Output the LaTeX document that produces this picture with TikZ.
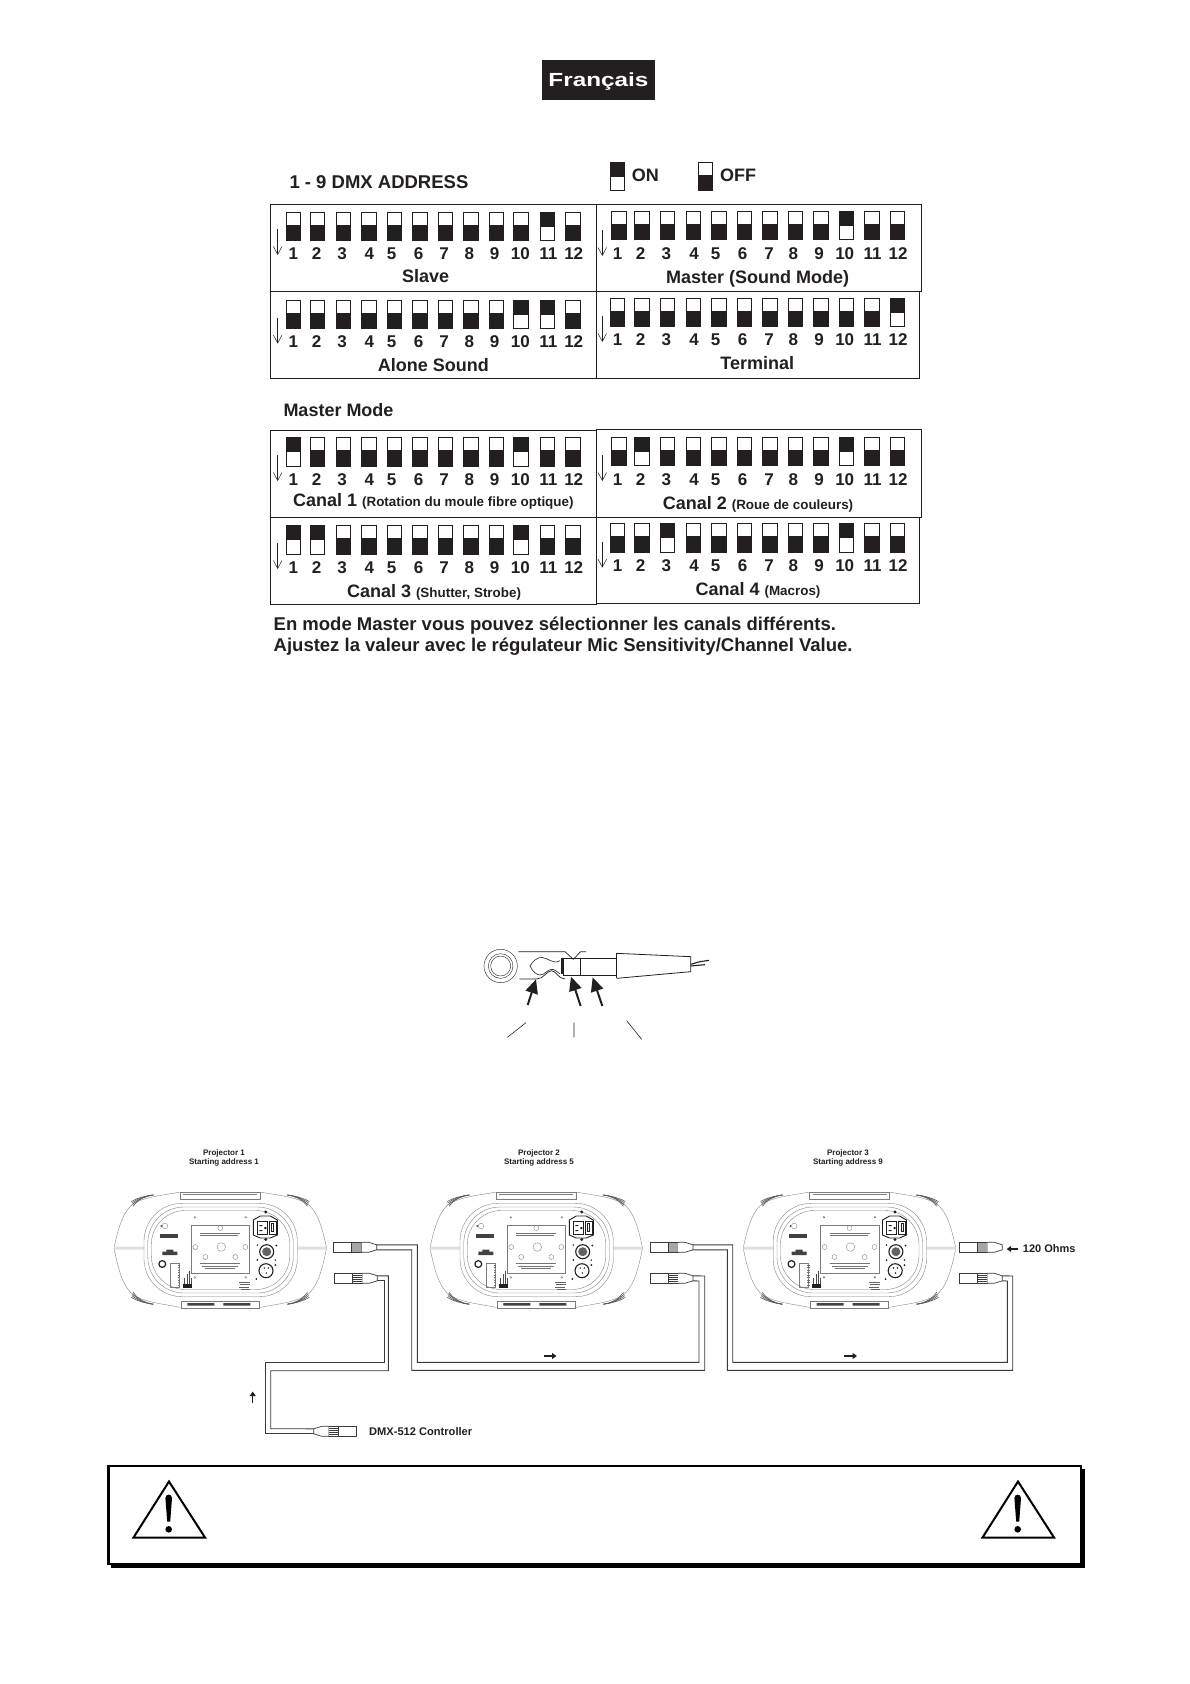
\documentclass[tikz,border=0pt]{standalone}
\usepackage{fontspec}
\setmainfont{Liberation Sans}
\usepackage{graphicx}
\usetikzlibrary{
  arrows.meta
}
\definecolor{ink}{HTML}{231F20}
\definecolor{wire}{HTML}{3A3A3A}
\definecolor{shell}{HTML}{7C7C7C}
\newcommand{\fs}[1]{\bfseries\fontsize{#1}{#1}\selectfont}
% switch x / number x
\newcommand{\colsL}{293.3/293.3,317.3/316.7,343.3/342,369/369.3,394.3/391.7,420/418.7,445.3/444,471/469.3,496.3/494.7,521/520.3,547.3/548.3,573/573.7}
\newcommand{\colsR}{619/617.7,642/640.7,667.3/666.3,693.3/694,719/715.7,744.3/742.7,770/769,795.3/793.3,820.7/819,846.3/844.7,872/872.7,897.3/898}
\newcommand{\colsS}{617.3/617.7,642/640.7,667.3/666.3,693.3/694,719/715.7,744.3/742.7,770/769,795.3/793.3,820.7/819,846.3/844.7,872/872.7,897.3/898}
% name, columns, switch y, number y, arrow x, arrow y, states
\newcommand{\diprow}[7]{%
  \foreach \sx/\nx [count=\i] in #2 {
    \pgfmathtruncatemacro{\st}{{#7}[\i-1]}
    \node[sw\st] (sw#1-\i) at (\sx,#3) {};
    \node[numlbl] (num#1-\i) at (\nx,#4) {\i};
  }
  \coordinate (arr#1a) at (#5,#6);
  \coordinate (arr#1b) at (#5,#6+26);
  \draw[downarr] (arr#1a) -- (arr#1b);
}
% name, x, y, direction, band style
\newcommand{\xlrplug}[5]{%
  \node[plugbody] (#1) at (#2+14*#4,#3) {};
  \node[#5] (#1-band) at (#2+23*#4,#3) {};
  \coordinate (#1-t) at (#2+43*#4,#3-2.5);
  \coordinate (#1-b) at (#2+43*#4,#3+2.5);
  \draw[plugline] (#2+28*#4,#3-5) -- (#2+35*#4,#3-5) -- (#1-t) -- (#1-b) -- (#2+35*#4,#3+5) -- (#2+28*#4,#3+5);
}

\begin{document}
\begin{tikzpicture}[
  x=1pt, y=-1pt,
  frame/.style={draw=ink, line width=0.9pt},
  dipsw/.style={draw=ink, line width=0.7pt, fill=white, minimum width=14.5pt, minimum height=28.5pt, inner sep=0pt},
  sw0/.style={dipsw, path picture={\fill[ink] ([yshift=-12.7pt]path picture bounding box.north west) rectangle (path picture bounding box.south east);}},
  sw1/.style={dipsw, path picture={\fill[ink] (path picture bounding box.north west) rectangle ([yshift=14pt]path picture bounding box.south east);}},
  numlbl/.style={font=\fs{17}, text=ink, inner sep=0pt, anchor=base},
  lbl/.style={font=\fs{18}, text=ink, inner sep=0pt, anchor=base},
  lblw/.style={lbl, anchor=base west},
  downarr/.style={draw=ink, line width=0.5pt, -{Straight Barb[length=8pt,width=8.5pt]}},
  plugbody/.style={draw=wire, line width=0.8pt, fill=white, minimum width=28pt, minimum height=10pt, inner sep=0pt},
  plugline/.style={draw=wire, line width=0.7pt, fill=white},
  grayband/.style={plugbody, fill=black!35, minimum width=10pt},
  stripeband/.style={plugbody, minimum width=10pt, path picture={\foreach \s in {-3,-1,1,3}{\draw[wire, line width=0.5pt] ([yshift=\s pt]path picture bounding box.west) -- ([yshift=\s pt]path picture bounding box.east);}}},
  cable/.style={draw=wire, line width=0.9pt},
  flowarr/.style={draw=ink, line width=1.3pt, -{Triangle[length=4.5pt,width=6pt]}},
  jackarr/.style={draw=ink, line width=2pt, -{Triangle[length=14pt,width=12.5pt]}},
  thin/.style={draw=shell, line width=0.35pt},
  projlbl/.style={font=\fs{8}\linespread{1.2}\selectfont, text=ink, inner sep=0pt, align=center},
  smalllbl/.style={text=ink, inner sep=0pt, anchor=base west}
]
  \useasboundingbox (0,0) rectangle (1190,1684);
  \fill[white] (0,0) rectangle (1190,1684);

  % Header
  \node[fill=ink, text=white, minimum width=113pt, minimum height=40pt, inner sep=0pt, text height=13pt, text depth=0pt, font=\fs{19}] (header) at (598.5,80) {\scalebox{1.28}[1]{Français}};

  % DMX address
  \node[lblw, font=\fs{18.5}] (dmxtitle) at (289.3,188) {1 - 9 DMX ADDRESS};
  \node[sw1] (legon) at (617.3,176.5) {};
  \node[lblw] (ontext) at (631.7,181.7) {ON};
  \node[sw0] (legoff) at (705.3,176.5) {};
  \node[lblw] (offtext) at (720,181.7) {OFF};

  \draw[frame] (270,204) rectangle (596,291);
  \draw[frame] (270,291) rectangle (596,378);
  \draw[frame] (596,204) rectangle (921,291);
  \draw[frame] (596,291) rectangle (919,378);

  \diprow{slave}{\colsL}{226.5}{259}{277.7}{229}{0,0,0,0,0,0,0,0,0,0,1,0}
  \diprow{alone}{\colsL}{314.5}{347.7}{277.7}{317.7}{0,0,0,0,0,0,0,0,0,1,1,0}
  \diprow{sound}{\colsR}{225.5}{259}{602.3}{230}{0,0,0,0,0,0,0,0,0,1,0,0}
  \diprow{term}{\colsS}{312.5}{345.7}{602.3}{316}{0,0,0,0,0,0,0,0,0,0,0,1}

  \node[lbl] (slavelbl) at (425.7,282.3) {Slave};
  \node[lbl] (alonelbl) at (433.3,371.7) {Alone Sound};
  \node[lbl] (soundlbl) at (757.7,283.3) {Master (Sound Mode)};
  \node[lbl] (termlbl) at (757.3,369.3) {Terminal};

  % Master mode
  \node[lblw] (mastertitle) at (283.3,416) {Master Mode};

  \draw[frame] (270,430.3) rectangle (596,517.3);
  \draw[frame] (270,517.3) rectangle (596,604.3);
  \draw[frame] (596,429.3) rectangle (921,517);
  \draw[frame] (596,517) rectangle (919,603.3);

  \diprow{canala}{\colsL}{451.8}{485}{277.7}{455}{1,0,0,0,0,0,0,0,0,1,0,0}
  \diprow{canalc}{\colsL}{540}{573}{277.7}{543}{1,1,0,0,0,0,0,0,0,1,0,0}
  \diprow{canalb}{\colsR}{451.5}{485}{602.3}{455}{0,1,0,0,0,0,0,0,0,1,0,0}
  \diprow{canald}{\colsS}{538}{571.3}{602.3}{541.7}{0,0,1,0,0,0,0,0,0,1,0,0}

  \node[lbl] (canalalbl) at (433.3,506) {Canal 1 {\fs{13.4}(Rotation du moule fibre optique)}};
  \node[lbl] (canalclbl) at (434,597.3) {Canal 3 {\fs{13.4}(Shutter, Strobe)}};
  \node[lbl] (canalblbl) at (758,509) {Canal 2 {\fs{13.4}(Roue de couleurs)}};
  \node[lbl] (canaldlbl) at (758,595) {Canal 4 {\fs{13.4}(Macros)}};

  \node[lblw, font=\fs{18.5}] (notea) at (273.5,630.7) {En mode Master vous pouvez sélectionner les canals différents.};
  \node[lblw, font=\fs{18.5}] (noteb) at (273.5,651.7) {Ajustez la valeur avec le régulateur Mic Sensitivity/Channel Value.};

  % Jack plug
  \begin{scope}[shift={(460,930)}, scale=0.3333]
    \draw[draw=ink, line width=0.4pt] (122,108) circle (50) (122,108) circle (37) (122,108) circle (30);
    \draw[draw=ink, line width=0.7pt] (175,65) -- (315,65) -- (340,88) -- (362,65) -- (378,65);
    \draw[draw=ink, line width=0.7pt] (178,147) -- (230,147) .. controls (250,147) and (262,122) .. (275,122) .. controls (288,122) and (295,147) .. (315,147);
    \draw[draw=ink, line width=0.6pt] (300,92) .. controls (280,105) and (262,82) .. (245,82) .. controls (230,82) and (218,95) .. (210,108) .. controls (218,125) and (230,135) .. (240,135) .. controls (255,135) and (262,118) .. (275,118) .. controls (285,118) and (295,128) .. (300,132);
    \draw[draw=ink, line width=0.8pt] (310,85) rectangle (470,135) (362,85) -- (362,135);
    \draw[draw=ink, line width=2pt] (305,85) -- (305,132);
    \draw[draw=ink, line width=0.8pt] (470,70) -- (692,80) -- (692,125) -- (470,145);
    \draw[draw=ink, line width=1.6pt] (470,70) -- (470,145);
    \draw[draw=ink, line width=1.1pt] (692,103) -- (720,95) -- (747,91) (692,108) -- (735,104);
    \coordinate (jackA) at (203,225);
    \coordinate (jackAt) at (228,148);
    \coordinate (jackB) at (362,228);
    \coordinate (jackBt) at (333,140);
    \coordinate (jackC) at (427,228);
    \coordinate (jackCt) at (398,142);
    \draw[jackarr] (jackA) -- (jackAt);
    \draw[jackarr] (jackB) -- (jackBt);
    \draw[jackarr] (jackC) -- (jackCt);
    \draw[draw=ink, line width=0.6pt] (142,322) -- (198,278) (342,322) -- (342,278) (545,328) -- (500,272);
  \end{scope}

  % Projectors
  \node[projlbl] (proja) at (224,1158) {Projector 1\\Starting address 1};
  \node[projlbl] (projb) at (539,1158) {Projector 2\\Starting address 5};
  \node[projlbl] (projc) at (848,1158) {Projector 3\\Starting address 9};

  \foreach \cx in {220.3,536.3,849.5} {
    \begin{scope}[shift={(\cx,1248)}]
      % shell, one corner at a time
      \foreach \sx/\sy in {1/1,-1/1,1/-1.06,-1/-1.06} {
        \begin{scope}[xscale=\sx, yscale=\sy]
          \draw[thin] (-106.3,0) .. controls (-101,-25) and (-96,-38) .. (-86,-45) .. controls (-72,-52) and (-55,-53) .. (-40,-56);
          \foreach \hd in {0,1,2,3} {
            \draw[draw=ink!75, line width=0.6pt] (-89+\hd*0.6,-46.5+\hd*1.6) .. controls (-82,-50.5+\hd*0.6) and (-75,-52) .. (-67,-53);
          }
        \end{scope}
      }
      \fill[black!12] (-106,-1.5) rectangle (-76,1.5) (77,-1.5) rectangle (106,1.5);
      \draw[thin] (-40,-56) rectangle (40,-49) (-37,-54) -- (37,-54);
      \draw[thin] (-39,53) rectangle (39,60);
      \fill[ink!85] (-33,55) rectangle (-6,57.5) (3,55) rectangle (30,57.5);
      \draw[thin, rounded corners=38pt] (-76.3,-44.7) rectangle (77,48.7);
      \draw[thin, rounded corners=36pt] (-72.5,-41) rectangle (73,45);
      \draw[thin, rounded corners=34pt] (-69,-37.5) rectangle (69.5,41.5);
      % plate
      \draw[draw=shell, line width=0.6pt] (-29,-22.3) rectangle (29.4,25.3);
      \draw[thin] (1,-1) circle (4.3) (-25,-1) circle (2.5) (25,-1) circle (2.5);
      \draw[thin] (0,-20) circle (2.5) (-15,9) circle (2.5) (15,9) circle (2.5);
      \draw[draw=black!55, line width=0.5pt] (-20,-15) -- (20,-15) (-20,-12.5) -- (18,-12.5) (-20,15) -- (20,15) (-18,18) -- (18,18) (-15,20.5) -- (15,20.5);
      % mains inlet
      \draw[draw=ink, line width=0.9pt] (33,-28) -- (40,-32) -- (50,-32) -- (57,-28) -- (57,-13) -- (50,-10) -- (40,-10) -- (33,-13) -- cycle;
      \draw[draw=ink, line width=0.6pt] (37,-27) rectangle (47,-14) (49,-27) rectangle (56,-14);
      \fill[ink] (51,-25) rectangle (54,-16);
      \fill[white] (52,-24) rectangle (53,-17);
      \fill[ink] (39,-23) rectangle (42,-22) (39,-18) rectangle (42,-17) (44,-21) rectangle (46,-19);
      \fill[ink] (45.5,-36) circle (1.6) (45.5,-8.5) circle (1.6);
      % sockets
      \draw[draw=ink, line width=1.1pt] (46.4,3.7) circle (7) (45.7,22.7) circle (7);
      \fill[ink!70] (46.4,3.7) circle (4.5);
      \fill[ink] (44,20) circle (0.8) (48,20) circle (0.8) (46,25) circle (0.8);
      \fill[ink] (56,-2.5) circle (1) (37,-3) circle (0.8) (37,12) circle (1) (55,17) circle (1) (36,31) circle (1) (55,12) circle (0.8);
      % left side parts
      \draw[thin] (-55.3,-22) circle (2.8);
      \fill[ink] (-59,-22) circle (0.9);
      \fill[ink!85] (-60.6,-14) rectangle (-42.3,-9.7);
      \fill[ink!85] (-58,3.7) rectangle (-43,7) (-54,1.5) rectangle (-47,3.7);
      \draw[draw=ink, line width=1.2pt] (-58,16) circle (3.4);
      \draw[thin] (-50.3,15.3) rectangle (-41.3,38.7);
      \foreach \dy in {17,19.5,...,37} { \draw[draw=black!55, line width=0.4pt] (-42.5,\dy) -- (-40,\dy); }
      \fill[ink] (-37.3,36) rectangle (-28.6,40.3);
      \foreach \dx/\dh in {-36/6,-33.5/10,-31/13,-29/6} { \draw[draw=ink!80, line width=0.5pt] (\dx,36) -- (\dx,36-\dh); }
      \fill[ink] (-25.6,-30.7) circle (1) (25.4,-30.7) circle (1) (-25.6,29.3) circle (1) (25.4,29.3) circle (1);
      \fill[white] (-25.6,-30.7) circle (0.5) (25.4,-30.7) circle (0.5) (-25.6,29.3) circle (0.5) (25.4,29.3) circle (0.5);
      \draw[draw=ink!70, line width=0.6pt] (19,34) -- (30,34) (20,36.5) -- (30,36.5) (19,39) -- (29,39) (21,41.5) -- (30,41.5);
    \end{scope}
  }

  % Cables
  \xlrplug{xlraup}{333.7}{1247.3}{1}{grayband}
  \xlrplug{xlradn}{334.3}{1278.3}{1}{stripeband}
  \xlrplug{xlrbup}{650}{1247.3}{1}{grayband}
  \xlrplug{xlrbdn}{650}{1278.3}{1}{stripeband}
  \xlrplug{xlrcup}{959.3}{1247.3}{1}{grayband}
  \xlrplug{xlrcdn}{959.3}{1278.3}{1}{stripeband}
  \xlrplug{xlrctl}{356.7}{1431.3}{-1}{stripeband}

  \draw[cable] (xlraup-t) -| (417.3,1362.3) -| (699,1281) -- (xlrbdn-b);
  \draw[cable] (xlraup-b) -| (411.7,1370.3) -| (704.7,1276) -- (xlrbdn-t);
  \draw[cable] (xlrbup-t) -| (732.7,1362.3) -| (1007.3,1281) -- (xlrcdn-b);
  \draw[cable] (xlrbup-b) -| (727.3,1370.3) -| (1012.7,1276) -- (xlrcdn-t);
  \draw[cable] (xlradn-t) -| (388.3,1370.7) -| (270.7,1428.7) -- (xlrctl-t);
  \draw[cable] (xlradn-b) -| (384.3,1362.7) -| (265.7,1433.8) -- (xlrctl-b);

  \coordinate (flowaa) at (252.7,1403);
  \coordinate (flowab) at (252.7,1391.5);
  \coordinate (flowba) at (543.5,1356);
  \coordinate (flowbb) at (556.5,1356);
  \coordinate (flowca) at (844,1356);
  \coordinate (flowcb) at (857,1356);
  \coordinate (termarr) at (1018.3,1249);
  \coordinate (termtip) at (1006.7,1249);
  \draw[flowarr] (flowaa) -- (flowab);
  \draw[flowarr] (flowba) -- (flowbb);
  \draw[flowarr] (flowca) -- (flowcb);
  \draw[flowarr] (termarr) -- (termtip);

  \node[smalllbl, font=\fs{11.1}] (ctllbl) at (369,1435.5) {DMX-512 Controller};
  \node[smalllbl, font=\fs{11}] (ohmlbl) at (1022.7,1252) {120 Ohms};

  % Warning box
  \fill[black] (111,1469) rectangle (1084.5,1568);
  \draw[fill=white, draw=black, line width=2.7pt] (108.5,1466) rectangle (1081,1564);
  \foreach \wx in {0,849} {
    \begin{scope}[xshift=\wx pt]
      \draw[draw=black, line width=2pt, line join=miter] (169,1481.5) -- (205,1537.5) -- (133.5,1537.5) -- cycle;
      \fill[black] (165.4,1498) .. controls (165.4,1493.5) and (172,1493.5) .. (172,1498) -- (170.2,1521.7) -- (167.2,1521.7) -- cycle;
      \fill[black] (168.7,1529.3) circle (3.3);
    \end{scope}
  }
\end{tikzpicture}
\end{document}
